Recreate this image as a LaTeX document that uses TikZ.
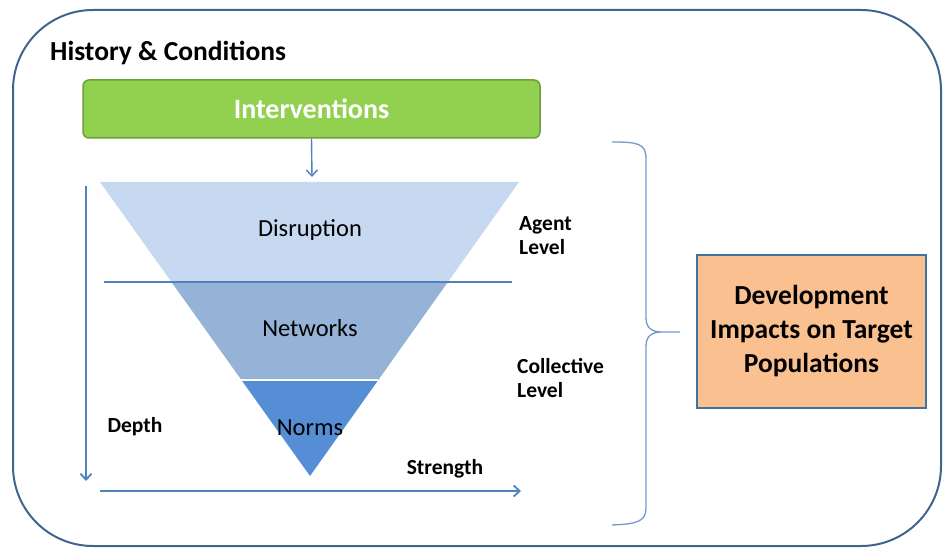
\documentclass[tikz,border=0pt]{standalone}
\usepackage{fontspec}
\setmainfont{Carlito}
\usepackage{xcolor}
\usetikzlibrary{arrows.meta}
\definecolor{frameblue}{HTML}{41648F}
\definecolor{lineblue}{HTML}{4F81BD}
\definecolor{lightblue}{HTML}{C6D9F1}
\definecolor{midblue}{HTML}{95B3D7}
\definecolor{darkblue}{HTML}{558ED5}
\definecolor{intgreen}{HTML}{92D050}
\definecolor{intedge}{HTML}{6F9E3C}
\definecolor{impfill}{HTML}{FAC090}
\definecolor{impedge}{HTML}{41719C}

\begin{document}
\begin{tikzpicture}[x=1pt,y=-1pt,
  lbl/.style={font=\bfseries\fontsize{21.5}{24}\selectfont,align=left,inner sep=0pt},
  layer/.style={font=\fontsize{24.5}{28}\selectfont,inner sep=0pt},
  axis/.style={lineblue,line width=1.8pt,-{Straight Barb[length=6pt,width=11pt]}},
  interv/.style={fill=intgreen,draw=intedge,line width=1.5pt,rounded corners=6pt,
    minimum width=457pt,minimum height=58pt,text=white,
    font=\bfseries\fontsize{28}{32}\selectfont},
  impact/.style={fill=impfill,draw=impedge,line width=2pt,minimum width=229pt,
    minimum height=153pt,align=center,font=\bfseries\fontsize{27.5}{34}\selectfont}]
\useasboundingbox (0,0) rectangle (943,548);
% frame
\draw[frameblue,line width=2pt,rounded corners=80pt] (13,10) rectangle (941,546);
\node[anchor=west,font=\bfseries\fontsize{27.5}{31}\selectfont,inner sep=0pt] (hist) at (50,53) {History \& Conditions};
\node[interv] (interv) at (311.5,109) {Interventions};
\coordinate (funtop) at (312,177);
\draw[lineblue,line width=1.4pt,-{Straight Barb[length=6pt,width=11pt]}] (interv.south) -- (funtop);
% funnel
\fill[lightblue] (100,182) -- (519,182) -- (447.9,282) -- (171.4,282) -- cycle;
\fill[midblue] (171.4,282) -- (447.9,282) -- (378.3,380) -- (241.4,380) -- cycle;
\fill[darkblue] (241.4,380) -- (378.3,380) -- (310,476) -- cycle;
\draw[white,line width=1.5pt] (241.4,380) -- (378.3,380);
\coordinate (lvlw) at (104,282);
\coordinate (lvle) at (512,282);
\draw[lineblue,line width=1.8pt] (lvlw) -- (lvle);
\node[layer] (disr) at (310,230) {Disruption};
\node[layer] (netw) at (310,328) {Networks};
\node[layer] (norms) at (310,428) {Norms};
% axes
\coordinate (dtop) at (86,186);
\coordinate (dbot) at (86,481);
\coordinate (sleft) at (100,491);
\coordinate (sright) at (521,491);
\draw[axis] (dtop) -- (dbot);
\draw[axis] (sleft) -- (sright);
\node[lbl] (depth) at (135,427) {Depth};
\node[lbl] (strength) at (445,469) {Strength};
\node[lbl,anchor=west] (agent) at (519,236) {Agent\\Level};
\node[lbl,anchor=west] (coll) at (517,378) {Collective\\Level};
% brace
\draw[lineblue!80,line width=1.3pt] (612,142) .. controls (636,142) and (646,143) .. (646,158)
  -- (646,318) .. controls (646,328) and (652,332) .. (662,332) -- (680,332)
  (662,332) .. controls (652,332) and (646,336) .. (646,346)
  -- (646,508) .. controls (646,522) and (636,524) .. (612,525);
\node[impact] (impact) at (811.5,331.5) {Development\\Impacts on Target\\Populations};
\end{tikzpicture}
\end{document}
